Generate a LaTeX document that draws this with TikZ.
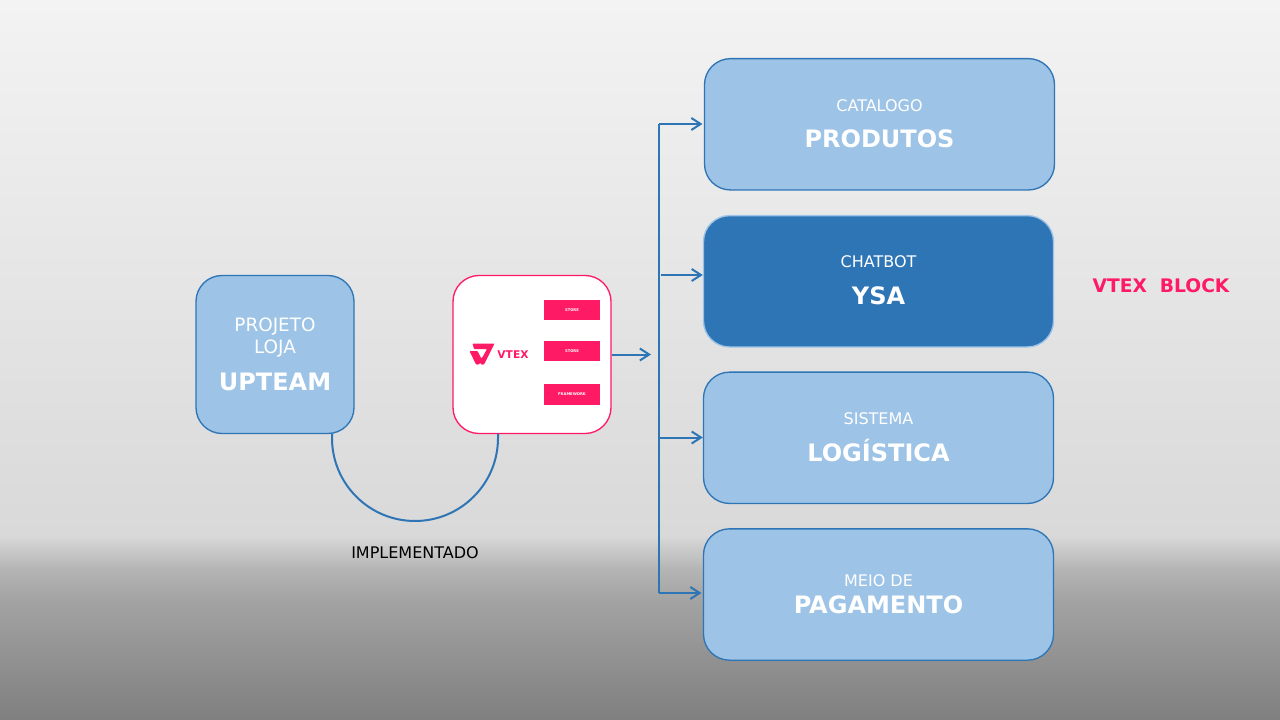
\documentclass[tikz,border=0pt]{standalone}
\usepackage{fontspec}
\setmainfont{DejaVu Sans}
\definecolor{bluefill}{HTML}{9DC3E6}
\definecolor{bluedark}{HTML}{2E75B6}
\definecolor{vtexpink}{HTML}{FF1A66}
\definecolor{bgtop}{HTML}{F3F3F3}
\definecolor{bgmid}{HTML}{D9D9D9}
\definecolor{bgfall}{HTML}{B4B4B4}
\definecolor{bgknee}{HTML}{A3A3A3}
\definecolor{bgbottom}{HTML}{7F7F7F}
\tikzset{every picture/.style={line width=0.75pt}}
\tikzset{
  bluebox/.style={draw=bluedark,fill=bluefill,rounded corners=19.5pt,line width=1pt,minimum width=262.5pt,minimum height=98.5pt,inner sep=0pt},
  smallbox/.style={rounded corners=19.5pt,line width=1pt,minimum width=118.5pt,minimum height=118.5pt,inner sep=0pt},
  pinkbar/.style={fill=vtexpink,minimum width=42pt,inner sep=0pt,text=white,font=\bfseries\fontsize{2.8}{3}\selectfont},
  thintext/.style={text=white,font=\fontsize{12}{14.5}\selectfont,align=center},
  boldtext/.style={text=white,font=\bfseries\fontsize{18}{21}\selectfont},
  link/.style={draw=bluedark,line width=1.5pt},
  linkarrow/.style={link,-{Straight Barb[length=7pt,width=9pt]},shorten >=1pt}
}
\usetikzlibrary{arrows.meta}

\begin{document}
\begin{tikzpicture}[x=0.75pt,y=0.75pt,yscale=-1]
%Background
\useasboundingbox (0,0) rectangle (1280,720);
\path[shade,top color=bgtop,bottom color=bgmid] (0,0) rectangle (1280,535);
\path[shade,top color=bgmid,bottom color=bgfall] (0,535) rectangle (1280,570);
\path[shade,top color=bgfall,bottom color=bgknee] (0,570) rectangle (1280,600);
\path[shade,top color=bgknee,bottom color=bgbottom] (0,600) rectangle (1280,720);

%Shape: Rounded Rect
\node[bluebox] (produtos) at (879.5,124.3) {};
\node[bluebox,draw=bluefill,fill=bluedark] (ysa) at (878.5,281.3) {};
\node[bluebox] (logistica) at (878.5,437.8) {};
\node[bluebox] (pagamento) at (878.5,594.5) {};
\node[smallbox,draw=bluedark,fill=bluefill] (upteam) at (275,354.5) {};
\node[smallbox,draw=vtexpink,fill=white] (vtex) at (532,354.5) {};

%Shape: Rectangle
\node[pinkbar,minimum height=15pt] (store1) at (572,310) {STORE};
\node[pinkbar,minimum height=15pt] (store2) at (572,351) {STORE};
\node[pinkbar,minimum height=15.75pt] (framework) at (572,394.5) {FRAMEWORK};

%Logo
\fill[vtexpink,rounded corners=0.6pt] (472.5,343.5) -- (494.5,343.5) -- (484,364.5) -- (481,364.5) -- (478,358) -- (482,358) -- (487,349) -- (474,349) -- cycle;
\fill[vtexpink,rounded corners=0.6pt] (469.5,351) -- (477.5,351) -- (482,360) -- (479,364.5) -- (476,364.5) -- cycle;
\node[inner sep=0pt,text=vtexpink,font=\bfseries\fontsize{8}{9}\selectfont] (vtexname) at (513,354.5) {VTEX};

%Straight Lines
\coordinate (trunktop) at (659,124);
\coordinate (trunkbottom) at (659,593);
\coordinate (trunkmid) at (651,354.5);
\coordinate (ysastart) at (661,275);
\coordinate (logstart) at (659,437.5);
\draw[link] (trunktop) -- (trunkbottom);
\draw[linkarrow] (trunktop) -- (produtos.west |- trunktop);
\draw[linkarrow,shorten >=0pt] (ysastart) -- (ysa.west |- ysastart);
\draw[linkarrow,shorten >=0pt] (logstart) -- (logistica.west |- logstart);
\draw[linkarrow] (trunkbottom) -- (pagamento.west |- trunkbottom);
\draw[linkarrow,shorten >=0pt] (vtex.east) -- (trunkmid);

%Curve Lines
\coordinate (arcleft) at (332,433.5);
\coordinate (arcright) at (498,433.5);
\draw[link] (arcleft) -- (332,438) .. controls (332,483.8) and (369.2,521) .. (415,521) .. controls (460.8,521) and (498,483.8) .. (498,438) -- (arcright);

% Text Node
\node[thintext] (catalogo) at (879.5,106) {CATALOGO};
\node[boldtext] (produtostxt) at (879.5,138.5) {PRODUTOS};
\node[thintext] (chatbot) at (878.5,262) {CHATBOT};
\node[boldtext] (ysatxt) at (878.5,295.5) {YSA};
\node[thintext] (sistema) at (878.5,419) {SISTEMA};
\node[boldtext] (logisticatxt) at (878.5,451) {LOGÍSTICA};
\node[thintext] (meiode) at (878.5,581) {MEIO DE};
\node[boldtext] (pagamentotxt) at (878.5,604.5) {PAGAMENTO};
\node[thintext,font=\fontsize{13.8}{16.5}\selectfont] (projeto) at (275,338) {PROJETO\\LOJA};
\node[boldtext] (upteamtxt) at (275,381.5) {UPTEAM};
\node[font=\fontsize{12}{14}\selectfont] (implementado) at (415,553) {IMPLEMENTADO};
\node[text=vtexpink,font=\bfseries\fontsize{14}{17}\selectfont] (vtexblock) at (1161,285.5) {VTEX\ \ BLOCK};
\end{tikzpicture}
\end{document}
